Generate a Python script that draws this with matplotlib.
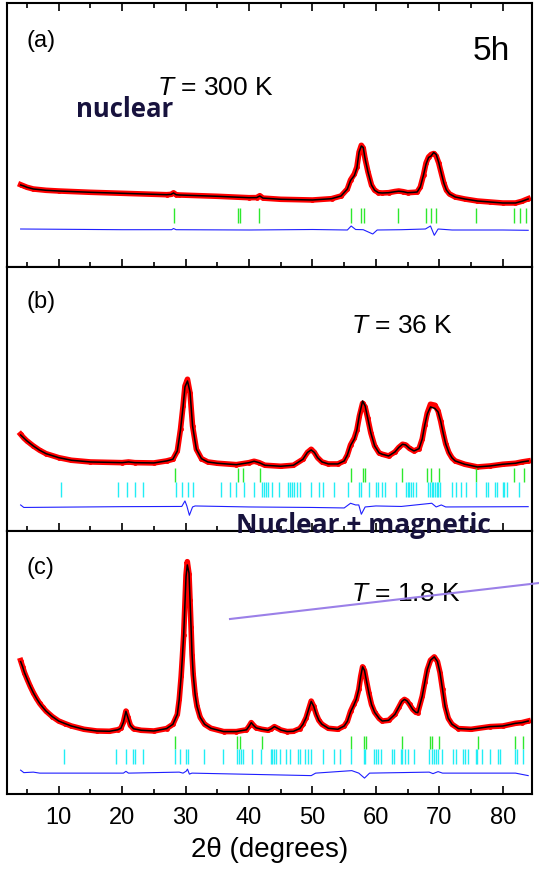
import matplotlib
matplotlib.use('Agg')
import matplotlib.pyplot as plt
from matplotlib.lines import Line2D

plt.rcParams['font.family'] = ['Liberation Sans', 'DejaVu Sans']
plt.rcParams['mathtext.fontset'] = 'custom'
plt.rcParams['mathtext.rm'] = 'Liberation Sans'
plt.rcParams['mathtext.it'] = 'Liberation Sans:italic'

# ---- panel (a), 300 K: 2theta, observed, calculated (a.u.)
tth_a = [4, 4.5, 5, 6, 8, 10, 15, 20, 25, 27, 27.7, 28.1, 28.5, 29, 35, 40, 41.2, 41.7, 42.2,
         45, 50, 53, 54.5, 55.5, 56, 56.6, 57.0, 57.35, 57.7, 58.0, 58.3, 58.75, 59.3, 59.8,
         60.4, 61, 62, 63, 63.6, 64.3, 65, 66, 66.5, 67, 67.5, 67.9, 68.3, 68.7, 69.1, 69.5,
         69.9, 70.3, 70.7, 71.1, 71.6, 72.5, 74, 76, 78, 80, 82, 83, 84]
obs_a = [82.3, 81, 79.7, 78, 76.7, 76, 74.7, 73.7, 72.7, 72.3, 72.6, 74.2, 72.3, 72, 70.7,
         69.3, 69.4, 71.3, 68.9, 67.7, 67, 68.3, 71, 78, 87, 93, 100, 115, 121.7, 119, 108, 95,
         82, 76.7, 74.3, 74, 74.3, 75.5, 76, 75.3, 74.3, 74.7, 75, 80, 92, 104, 110, 112.5,
         113.5, 111, 104, 94, 84, 77, 73, 70, 68, 66, 65, 64, 64, 65.7, 68.3]
calc_a = [82, 81, 79.7, 78, 76.7, 76, 74.7, 73.7, 72.7, 72.3, 72.6, 74, 72.3, 72, 70.7,
          69.3, 69.4, 71, 68.9, 67.7, 67, 68.3, 71, 78, 86.5, 91.5, 99, 115, 121, 119.5, 108, 95,
          82, 76.7, 74.3, 74, 74.3, 75.3, 75.8, 75.3, 74.3, 74.7, 75, 80, 92, 103, 109.5, 111,
          114.5, 112.5, 104.5, 94, 84, 77, 73, 70, 68, 66, 65, 64, 64, 65.7, 68]
tth_da = [4, 20, 27.8, 28.1, 28.5, 40, 50, 55.5, 56.1, 56.8, 58, 59.5, 60.2, 64, 67.8, 68.6,
          69.2, 69.8, 72, 80, 84]
diff_a = [38, 37.3, 37.3, 38.5, 37.3, 37, 37.5, 37, 41, 37.5, 37.3, 33, 37, 37.3, 38, 41,
          31.7, 38, 37, 37, 36.7]
nuc_a = [28.15, 38.2, 38.55, 41.65, 56.05, 57.7, 58.05, 63.5, 67.95, 68.65, 69.5, 75.8,
         81.7, 82.7, 83.7]

# ---- panel (b), 36 K
tth_b = [4, 4.5, 5, 6, 7, 8, 10, 12, 15, 20, 21, 22, 25, 27, 28, 28.7, 29.2, 29.6, 29.9,
         30.3, 30.7, 31.1, 31.7, 32.5, 33.5, 35, 38, 40, 40.8, 41.6, 42.5, 45, 47, 48.5, 49.2,
         49.8, 50.3, 50.8, 51.5, 52.5, 54, 55, 55.5, 56, 56.6, 57.0, 57.4, 57.9, 58.3, 58.7,
         59.2, 59.8, 60.5, 61, 62, 63, 63.6, 64.2, 64.7, 65.3, 66, 66.8, 67.3, 67.7, 68.1,
         68.6, 69.3, 69.8, 70.2, 70.6, 71, 71.5, 72, 72.5, 74, 76, 78, 80, 82, 83, 84]
obs_b = [96.7, 93, 90, 85, 80.7, 77.3, 73.3, 70.7, 69, 68.3, 69, 68.3, 68, 70, 71.7, 80,
         101.7, 125, 145, 151.7, 138, 105, 81.7, 72.3, 69, 67.7, 66.3, 68.3, 69.7, 68.3, 65.7,
         64.7, 65.7, 71.7, 78.5, 81.7, 78.5, 73.3, 69, 67, 67, 70, 76, 86, 93, 101, 115, 127.7,
         124, 113, 98, 85, 78, 76.7, 75, 79, 83.5, 86.7, 86, 82.5, 80, 82.3, 92, 106, 118,
         126.7, 125.7, 120, 110, 98, 87, 78.3, 73, 70, 66.7, 64, 65, 66.7, 67.7, 69, 70]
calc_b = [96, 93, 90, 85, 80.7, 77.3, 73.3, 70.7, 69, 68.3, 69, 68.3, 68, 70, 71.7, 80,
          101, 124, 144, 150, 139, 105, 81.7, 72.3, 69, 67.7, 66.3, 68.3, 69.7, 68.3, 65.7,
          64.7, 65.7, 71.7, 78.5, 81, 78.5, 73.3, 69, 67, 67, 70, 76, 85.5, 92, 101, 116, 130,
          125, 113, 98, 85, 78, 76.7, 75, 79, 83.5, 86.7, 86, 82.5, 80, 82.3, 92, 106, 117,
          124, 122.5, 119, 110, 98, 87, 78.3, 73, 70, 66.7, 64, 65, 66.7, 67.7, 69, 70]
tth_db = [4, 4.5, 20, 29, 29.4, 29.9, 30.2, 30.6, 31.1, 31.5, 40, 50, 55, 56, 56.8, 57.3,
          57.7, 58.3, 60, 64, 68.8, 69.5, 70.3, 71, 84]
diff_b = [26, 23.5, 24.3, 24.5, 24.5, 30, 25, 15.7, 24, 25, 24, 23.5, 23, 27.7, 26, 26,
          16.7, 24, 25, 24.5, 27.7, 24, 26, 24, 24.3]
nuc_b = [28.26, 38.33, 38.98, 41.8, 56.15, 57.94, 58.32, 64.06, 68.12, 68.61, 70.02, 75.82,
         81.83, 83.4]
mag_b = [10.43, 19.37, 20.83, 22.03, 23.27, 28.53, 29.39, 30.31, 31.24, 35.57, 36.98, 37.9,
         39.25, 40.72, 42.07, 42.34, 42.61, 43.04, 43.59, 44.78, 46.08, 46.4, 46.73, 47.11,
         47.49, 48.03, 49.82, 51.06, 51.71, 53.34, 55.61, 57.29, 57.67, 58.86, 59.95, 60.38,
         60.92, 61.46, 63.09, 64.71, 64.98, 65.25, 65.53, 65.8, 66.34, 68.23, 68.5, 68.78,
         69.05, 69.32, 69.59, 69.86, 70.13, 72.03, 72.57, 73.38, 74.19, 75.82, 77.28, 77.71,
         78.8, 79.07, 79.99, 80.26, 80.69, 82.59]

# ---- panel (c), 1.8 K
tth_c = [4, 4.3, 4.6, 5, 5.5, 6, 6.5, 7, 7.5, 8, 9, 10, 11, 12, 14, 16, 18, 19.3, 19.8, 20.2,
         20.6, 20.9, 21.3, 21.8, 23, 25, 27, 28, 28.7, 29.0, 29.3, 29.5, 29.7, 29.9, 30.07,
         30.27, 30.54, 30.7, 30.86, 31.02, 31.2, 31.5, 31.8, 32.3, 33, 34, 36, 38, 39.6, 40.0,
         40.35, 40.7, 41.1, 42, 43, 43.5, 44.0, 44.5, 45, 46, 47, 48, 48.5, 49, 49.4, 49.8,
         50.2, 50.6, 51, 51.5, 52.5, 54, 55, 55.5, 56, 56.5, 56.9, 57.3, 57.6, 57.9, 58.2, 58.5,
         58.9, 59.3, 59.8, 60.5, 61, 62, 63, 63.6, 64.1, 64.5, 64.9, 65.3, 65.8, 66.3, 66.6,
         67.3, 67.7, 68.1, 68.6, 69.2, 69.7, 70.1, 70.5, 70.9, 71.4, 72, 73, 75, 78, 80, 82,
         83, 84]
obs_c = [134, 128, 122, 115.7, 108.3, 101.7, 96, 91, 87, 83.3, 77.7, 73.3, 70.7, 68.3, 65,
         63.3, 63, 64.5, 66, 72, 83.3, 77, 69, 65.5, 64, 63.3, 65.7, 70, 80, 95, 118, 138, 160,
         192, 220, 233.3, 221, 195, 168, 140, 120, 100, 88, 77, 70, 66, 62.7, 62.7, 64.5, 68,
         71.7, 69, 66.5, 65, 64, 65.5, 67.7, 66, 64.3, 62.7, 63, 65.7, 70, 76.7, 85, 93.3, 88,
         80, 74, 70, 66, 65, 68.3, 73, 83, 90, 95, 105, 118, 127.7, 124, 114, 101, 90, 82, 76,
         73.3, 74, 80, 87, 93, 95, 93.5, 90, 85, 82, 81.7, 98.3, 112, 125, 134.3, 137.7, 133,
         122, 105, 88, 76, 70, 65.7, 65, 67.7, 68.3, 71, 71.7, 73.3]
calc_c = [133, 128, 122, 115.7, 108.3, 101.7, 96, 91, 87, 83.3, 77.7, 73.3, 70.7, 68.3, 65,
          63.3, 63, 64.5, 66, 72, 83, 77, 69, 65.5, 64, 63.3, 65.7, 70, 80, 95, 118, 138, 160,
          191, 218, 230, 222, 195, 168, 140, 120, 100, 88, 77, 70, 66, 62.7, 62.7, 64.5, 68,
          71.7, 69, 66.5, 65, 64, 65.5, 67.7, 66, 64.3, 62.7, 63, 65.7, 70, 76.7, 85, 93, 88,
          80, 74, 70, 66, 65, 68.3, 73, 82.5, 89, 95, 105, 118, 127.7, 124, 114, 101, 90, 82, 76,
          73.3, 74, 80, 87, 93, 95, 93.5, 90, 85, 82, 81.7, 98.3, 112, 125, 134.3, 137.7, 133,
          122, 105, 88, 76, 70, 65.7, 65, 67.7, 68.3, 71, 71.7, 73.3]
tth_dc = [4, 4.5, 6, 7, 20.2, 20.6, 21, 29, 29.6, 30.1, 30.3, 30.6, 31, 49.8, 50.5, 56.2,
          57.3, 58.2, 59, 68.4, 69, 69.8, 70.5, 82, 84]
diff_c = [24, 21.5, 22, 21, 21, 22.8, 21, 22, 21, 23, 25, 20, 21, 18.5, 21, 23.5, 21, 16, 21,
          22, 20.5, 22.5, 21, 21, 18.5]
nuc_c = [28.26, 38.17, 38.6, 42.1, 56.15, 58.05, 58.4, 64.1, 68.5, 68.9, 69.9, 76.1, 81.9,
         83.25]
mag_c = [10.76, 19.1, 20.62, 21.76, 22.03, 23.27, 28.26, 29.07, 30.04, 30.31, 32.86, 35.89,
         38.17, 38.44, 38.71, 38.98, 40.44, 41.96, 43.42, 43.69, 43.97, 44.29, 44.94, 45.75,
         46.46, 47.7, 48.03, 48.84, 49.27, 49.82, 51.71, 53.34, 54.26, 56.15, 58.05, 58.32,
         59.67, 59.95, 60.38, 60.81, 62.55, 62.82, 63.9, 64.17, 64.55, 64.98, 65.96, 68.4,
         68.78, 69.15, 69.48, 69.86, 70.4, 72.19, 72.57, 73.65, 74.03, 74.46, 75.71, 75.98,
         76.79, 77.98, 79.18, 79.61, 81.89, 82.21, 83.24]

NAVY = '#17123d'

fig = plt.figure(figsize=(5.39, 8.72), dpi=100)
left, width = 0.0139, 0.9731
ax_a = fig.add_axes([left, 0.6938, width, 0.3028])
ax_b = fig.add_axes([left, 0.3911, width, 0.3028])
ax_c = fig.add_axes([left, 0.0894, width, 0.3016])

panels = [
    (ax_a, tth_a, obs_a, calc_a, tth_da, diff_a, nuc_a, (44, 59), None, None),
    (ax_b, tth_b, obs_b, calc_b, tth_db, diff_b, nuc_b, (49, 63), mag_b, (34, 49)),
    (ax_c, tth_c, obs_c, calc_c, tth_dc, diff_c, nuc_c, (45, 58), mag_c, (30, 45)),
]

for ax, x, yo, yc, xd, yd, nuc, nr, mag, mr in panels:
    ax.plot(x, yo, '-', color='red', lw=4, solid_joinstyle='round', zorder=2)
    ax.plot(x, yo, 'o', color='red', ms=3.5, mew=0, zorder=2)
    ax.plot(x, yc, '-', color='black', lw=1.1, zorder=3)
    ax.plot(xd, yd, '-', color='#1f1fff', lw=0.8, zorder=2)
    ax.vlines(nuc, nr[0], nr[1], color='#2ee82e', lw=1.0)
    if mag is not None:
        ax.vlines(mag, mr[0], mr[1], color='#22eef5', lw=1.0)
    ax.set_xlim(1.93, 84.6)
    ax.set_ylim(0, 264)
    ax.set_yticks([])
    ax.set_xticks(range(10, 90, 10))
    ax.set_xticks(range(5, 85, 10), minor=True)
    ax.tick_params(axis='x', which='both', direction='in', width=1.2, labelbottom=False)
    ax.tick_params(axis='x', which='major', length=6)
    ax.tick_params(axis='x', which='minor', length=3.5)
    for s in ax.spines.values():
        s.set_linewidth(1.5)

ax_a.tick_params(axis='x', which='both', top=True)
ax_c.tick_params(axis='x', which='major', labelbottom=True, labelsize=17, pad=9)
ax_c.set_xlabel('2\u03b8 (degrees)', fontsize=20, labelpad=6)

ax_a.text(5.0, 226, '(a)', fontsize=17, va='center')
ax_b.text(5.0, 229, '(b)', fontsize=17, va='center')
ax_c.text(5.0, 227, '(c)', fontsize=17, va='center')
ax_a.text(75.2, 207, '5h', fontsize=24, va='baseline')
ax_a.text(25.5, 172, '$T$ = 300 K', fontsize=19, va='baseline')
ax_b.text(56.0, 198, '$T$ = 36 K', fontsize=19, va='baseline')
ax_c.text(56.0, 194, '$T$ = 1.8 K', fontsize=19, va='baseline')
ax_a.text(12.7, 150, 'nuclear', fontsize=18.5, fontweight='bold', color=NAVY,
          family=['Open Sans', 'DejaVu Sans'], va='baseline')
fig.text(0.675, 1 - 533 / 872, 'Nuclear + magnetic', fontsize=19, fontweight='bold',
         color=NAVY, family=['Open Sans', 'DejaVu Sans'], ha='center', va='baseline',
         zorder=10)

fig.add_artist(Line2D([230 / 539, 1.0], [1 - 619 / 872, 1 - 583 / 872],
                      color='#9b80e8', lw=1.5, zorder=10))

fig.savefig('out.png', dpi=100)
